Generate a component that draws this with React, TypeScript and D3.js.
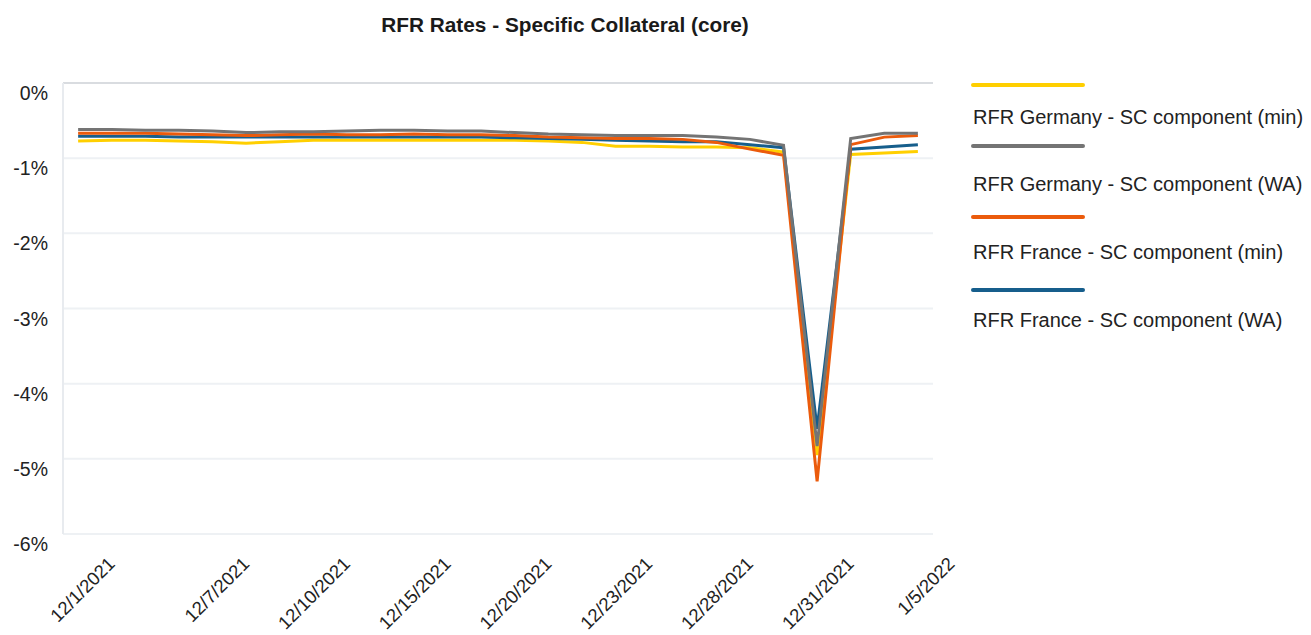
import React from "react";
import * as d3 from "d3";

const dates = [
  "12/1/2021", "12/2/2021", "12/3/2021", "12/6/2021", "12/7/2021", "12/8/2021", "12/9/2021",
  "12/10/2021", "12/13/2021", "12/14/2021", "12/15/2021", "12/16/2021", "12/17/2021",
  "12/20/2021", "12/21/2021", "12/22/2021", "12/23/2021", "12/24/2021", "12/27/2021",
  "12/28/2021", "12/29/2021", "12/30/2021", "12/31/2021", "1/3/2022", "1/4/2022", "1/5/2022",
];
const shownLabels = ["12/1/2021", "12/7/2021", "12/10/2021", "12/15/2021", "12/20/2021", "12/23/2021", "12/28/2021", "12/31/2021", "1/5/2022"];
const yTicks = [0, -1, -2, -3, -4, -5, -6];

const germanyMin = [-0.77, -0.76, -0.76, -0.77, -0.78, -0.80, -0.78, -0.76, -0.76, -0.76, -0.76, -0.76, -0.76, -0.76, -0.77, -0.79, -0.84, -0.84, -0.85, -0.85, -0.86, -0.92, -4.95, -0.95, -0.93, -0.91];
const germanyWA = [-0.62, -0.62, -0.63, -0.63, -0.64, -0.66, -0.65, -0.65, -0.64, -0.63, -0.63, -0.64, -0.64, -0.66, -0.68, -0.69, -0.70, -0.70, -0.70, -0.72, -0.75, -0.83, -4.83, -0.74, -0.67, -0.67];
const franceMin = [-0.67, -0.67, -0.67, -0.68, -0.69, -0.70, -0.69, -0.68, -0.69, -0.69, -0.68, -0.69, -0.69, -0.70, -0.72, -0.73, -0.74, -0.74, -0.75, -0.79, -0.88, -0.96, -5.30, -0.82, -0.72, -0.70];
const franceWA = [-0.71, -0.71, -0.71, -0.72, -0.72, -0.72, -0.72, -0.72, -0.72, -0.72, -0.72, -0.72, -0.72, -0.73, -0.74, -0.75, -0.76, -0.77, -0.78, -0.78, -0.82, -0.86, -4.60, -0.88, -0.85, -0.82];

const seriesNames = [
  "RFR Germany - SC component (min)",
  "RFR Germany - SC component (WA)",
  "RFR France - SC component (min)",
  "RFR France - SC component (WA)",
];
const seriesColors = ["#FFCF00", "#747474", "#EB5B0C", "#165E8C"];
const seriesValues = [germanyMin, germanyWA, franceMin, franceWA];
const drawOrder = [0, 3, 2, 1];

const FONT = "'Liberation Sans', Arial, Helvetica, sans-serif";

export default function App() {
  const W = 1311, H = 635;
  const left = 63, right = 933, top = 83, bottom = 534;
  const x = d3.scalePoint<string>().domain(dates).range([left, right]).padding(0.45);
  const y = d3.scaleLinear().domain([-6, 0]).range([bottom, top]);
  const line = d3.line<number>().x((_, i) => x(dates[i]) as number).y((d) => y(d));

  const legendLineY = [85, 146, 217, 290];
  const legendTextY = [124, 191, 259, 327];

  return (
    <svg width={W} height={H} style={{ position: "absolute", left: 0, top: 0, background: "#fff" }} fontFamily={FONT}>
      <text x={565} y={32} textAnchor="middle" fontSize={20.8} fontWeight="bold" fill="#1a1a1a">
        RFR Rates - Specific Collateral (core)
      </text>
      {yTicks.map((t) => (
        <g key={t}>
          <line x1={left} x2={right} y1={y(t)} y2={y(t)} stroke={t === 0 ? "#D9DCE0" : "#EEF1F4"} strokeWidth={2} />
          <text x={48} y={y(t) + 17} textAnchor="end" fontSize={19.5} fill="#222">
            {t}%
          </text>
        </g>
      ))}
      <line x1={left} x2={left} y1={top} y2={bottom} stroke="#E8EBEF" strokeWidth={2} />
      {shownLabels.map((d) => {
        const px = (x(d) as number) + 38;
        const py = 565;
        return (
          <text key={d} x={px} y={py} textAnchor="end" fontSize={18.5} fill="#222" transform={`rotate(-45 ${px} ${py})`}>
            {d}
          </text>
        );
      })}
      {drawOrder.map((s) => (
        <path key={s} d={line(seriesValues[s]) || ""} fill="none" stroke={seriesColors[s]} strokeWidth={3} strokeLinejoin="miter" />
      ))}
      {seriesNames.map((n, i) => (
        <g key={n}>
          <line x1={973} x2={1083} y1={legendLineY[i]} y2={legendLineY[i]} stroke={seriesColors[i]} strokeWidth={4} strokeLinecap="round" />
          <text x={973} y={legendTextY[i]} fontSize={20} fill="#222">
            {n}
          </text>
        </g>
      ))}
    </svg>
  );
}
